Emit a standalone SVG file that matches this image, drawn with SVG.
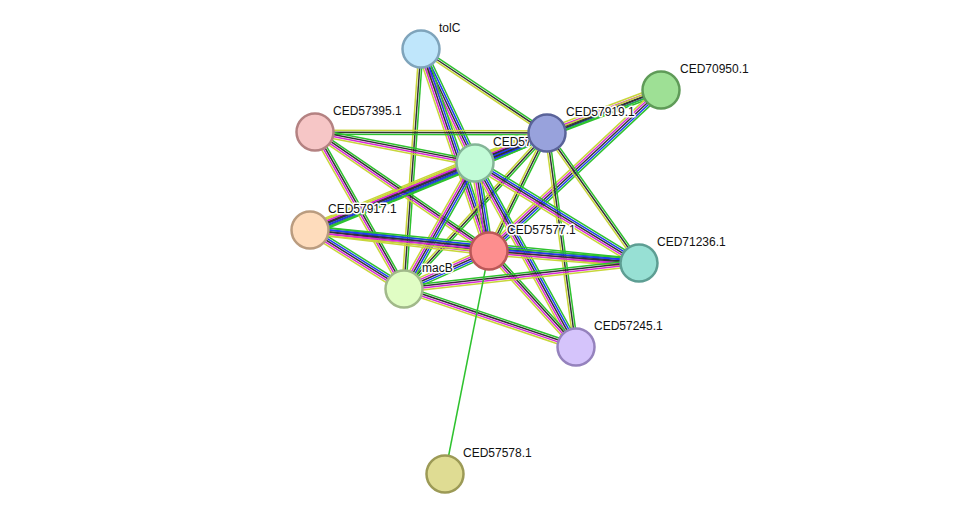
<svg xmlns="http://www.w3.org/2000/svg" xmlns:xlink="http://www.w3.org/1999/xlink" width="976" height="520" viewBox="0 0 976 520">
<style>
line{vector-effect:non-scaling-stroke;stroke-width:1.5}
.g{stroke:#2ec22e}.b{stroke:#1f3cf0}.k{stroke:#333}.m{stroke:#d62ad6}.y{stroke:#c8d63a}
circle{stroke-width:2.5}
text{font-family:"Liberation Sans",Arial,sans-serif;font-size:12px;fill:#111;paint-order:stroke;stroke:#fff;stroke-width:3px;stroke-linejoin:round}
</style>
<defs>
<g id="e5"><line class="g" x1="0" y1="-4" x2="1" y2="-4"/><line class="b" x1="0" y1="-2" x2="1" y2="-2"/><line class="k" x1="0" y1="0" x2="1" y2="0"/><line class="m" x1="0" y1="2" x2="1" y2="2"/><line class="y" x1="0" y1="4" x2="1" y2="4"/></g>
<g id="e4"><line class="g" x1="0" y1="-3" x2="1" y2="-3"/><line class="k" x1="0" y1="-1" x2="1" y2="-1"/><line class="m" x1="0" y1="1" x2="1" y2="1"/><line class="y" x1="0" y1="3" x2="1" y2="3"/></g>
<g id="e3"><line class="g" x1="0" y1="-2" x2="1" y2="-2"/><line class="k" x1="0" y1="0" x2="1" y2="0"/><line class="y" x1="0" y1="2" x2="1" y2="2"/></g>
<g id="e7"><line class="g" x1="0" y1="-5" x2="1" y2="-5"/><line class="b" x1="0" y1="-3.5" x2="1" y2="-3.5"/><line class="k" x1="0" y1="-2" x2="1" y2="-2"/><line class="b" x1="0" y1="-0.5" x2="1" y2="-0.5"/><line class="k" x1="0" y1="1" x2="1" y2="1"/><line class="m" x1="0" y1="2.5" x2="1" y2="2.5"/><line class="y" x1="0" y1="4" x2="1" y2="4"/><line class="y" x1="0" y1="5.5" x2="1" y2="5.5"/></g>
</defs>
<rect width="976" height="520" fill="#fff"/>
<g id="edges">
<use xlink:href="#e3" transform="translate(421,49) rotate(33.7) scale(151.4,1)"/>
<use xlink:href="#e5" transform="translate(421,49) rotate(64.7) scale(126.1,1)"/>
<use xlink:href="#e5" transform="translate(421,49) rotate(71.4) scale(213.1,1)"/>
<use xlink:href="#e3" transform="translate(421,49) rotate(94.1) scale(240.6,1)"/>
<use xlink:href="#e5" transform="translate(661,90) rotate(159.3) scale(121.8,1)"/>
<use xlink:href="#e5" transform="translate(661,90) rotate(136.9) scale(235.6,1)"/>
<use xlink:href="#e3" transform="translate(661,90) rotate(158.6) scale(199.8,1)"/>
<use xlink:href="#e3" transform="translate(547,133) rotate(180.2) scale(232,1)"/>
<use xlink:href="#e7" transform="translate(547,133) rotate(157.4) scale(78,1)"/>
<use xlink:href="#e7" transform="translate(547,133) rotate(157.7) scale(256.1,1)"/>
<use xlink:href="#e3" transform="translate(547,133) rotate(116.2) scale(131.5,1)"/>
<use xlink:href="#e3" transform="translate(547,133) rotate(54.7) scale(159.3,1)"/>
<use xlink:href="#e3" transform="translate(547,133) rotate(82.3) scale(216,1)"/>
<use xlink:href="#e3" transform="translate(547,133) rotate(132.5) scale(211.6,1)"/>
<use xlink:href="#e4" transform="translate(315,132) rotate(11) scale(163,1)"/>
<use xlink:href="#e4" transform="translate(315,132) rotate(34.4) scale(210.8,1)"/>
<use xlink:href="#e4" transform="translate(315,132) rotate(60.45) scale(180.5,1)"/>
<use xlink:href="#e5" transform="translate(475,163) rotate(157.9) scale(178.1,1)"/>
<use xlink:href="#e5" transform="translate(475,163) rotate(81) scale(89.1,1)"/>
<use xlink:href="#e5" transform="translate(475,163) rotate(119.4) scale(144.6,1)"/>
<use xlink:href="#e5" transform="translate(475,163) rotate(31.4) scale(192.1,1)"/>
<use xlink:href="#e5" transform="translate(475,163) rotate(61.2) scale(209.9,1)"/>
<use xlink:href="#e5" transform="translate(310,230) rotate(6.7) scale(180.2,1)"/>
<use xlink:href="#e5" transform="translate(310,230) rotate(32.1) scale(111,1)"/>
<use xlink:href="#e5" transform="translate(310,230) rotate(5.7) scale(330.7,1)"/>
<use xlink:href="#e5" transform="translate(489,251) rotate(4.6) scale(150.5,1)"/>
<use xlink:href="#e5" transform="translate(489,251) rotate(155.9) scale(93.1,1)"/>
<use xlink:href="#e4" transform="translate(489,251) rotate(47.8) scale(129.6,1)"/>
<use xlink:href="#e4" transform="translate(404,289) rotate(-6.3) scale(236.4,1)"/>
<use xlink:href="#e4" transform="translate(404,289) rotate(18.6) scale(181.5,1)"/>
<line class="g" x1="489" y1="251" x2="445" y2="474"/>
</g>
<g id="tolC"><circle cx="421" cy="49" r="18.5" fill="#bfe6fb" stroke="#7fa4bb"/><text x="439" y="32">tolC</text></g>
<g id="CED70950"><circle cx="661" cy="90" r="18.5" fill="#9ee095" stroke="#5f9b58"/><text x="680" y="73">CED70950.1</text></g>
<g id="CED57395"><circle cx="315" cy="132" r="18.5" fill="#f6c6c6" stroke="#b48282"/><text x="333" y="115">CED57395.1</text></g>
<g id="CED57918"><circle cx="475" cy="163" r="18.5" fill="#c2fbd7" stroke="#84b597"/><text x="493" y="146">CED57918.1</text></g>
<g id="CED57919"><circle cx="547" cy="133" r="18.5" fill="#98a2dc" stroke="#5a6399"/><text x="566" y="116">CED57919.1</text></g>
<g id="CED57917"><circle cx="310" cy="230" r="18.5" fill="#fedcbc" stroke="#ba9c7f"/><text x="328" y="213">CED57917.1</text></g>
<g id="CED57577"><circle cx="489" cy="251" r="18.5" fill="#fd8e8e" stroke="#bb5858"/><text x="507" y="234">CED57577.1</text></g>
<g id="CED71236"><circle cx="639" cy="263" r="18.5" fill="#97e0d4" stroke="#5d9e93"/><text x="657" y="246">CED71236.1</text></g>
<g id="macB"><circle cx="404" cy="289" r="18.5" fill="#e0fdc4" stroke="#a1b98a"/><text x="422" y="272">macB</text></g>
<g id="CED57245"><circle cx="576" cy="347" r="18.5" fill="#d5c4fb" stroke="#9582bd"/><text x="594" y="330">CED57245.1</text></g>
<g id="CED57578"><circle cx="445" cy="474" r="18.5" fill="#dfdc93" stroke="#9c9a56"/><text x="463" y="457">CED57578.1</text></g>
</svg>
